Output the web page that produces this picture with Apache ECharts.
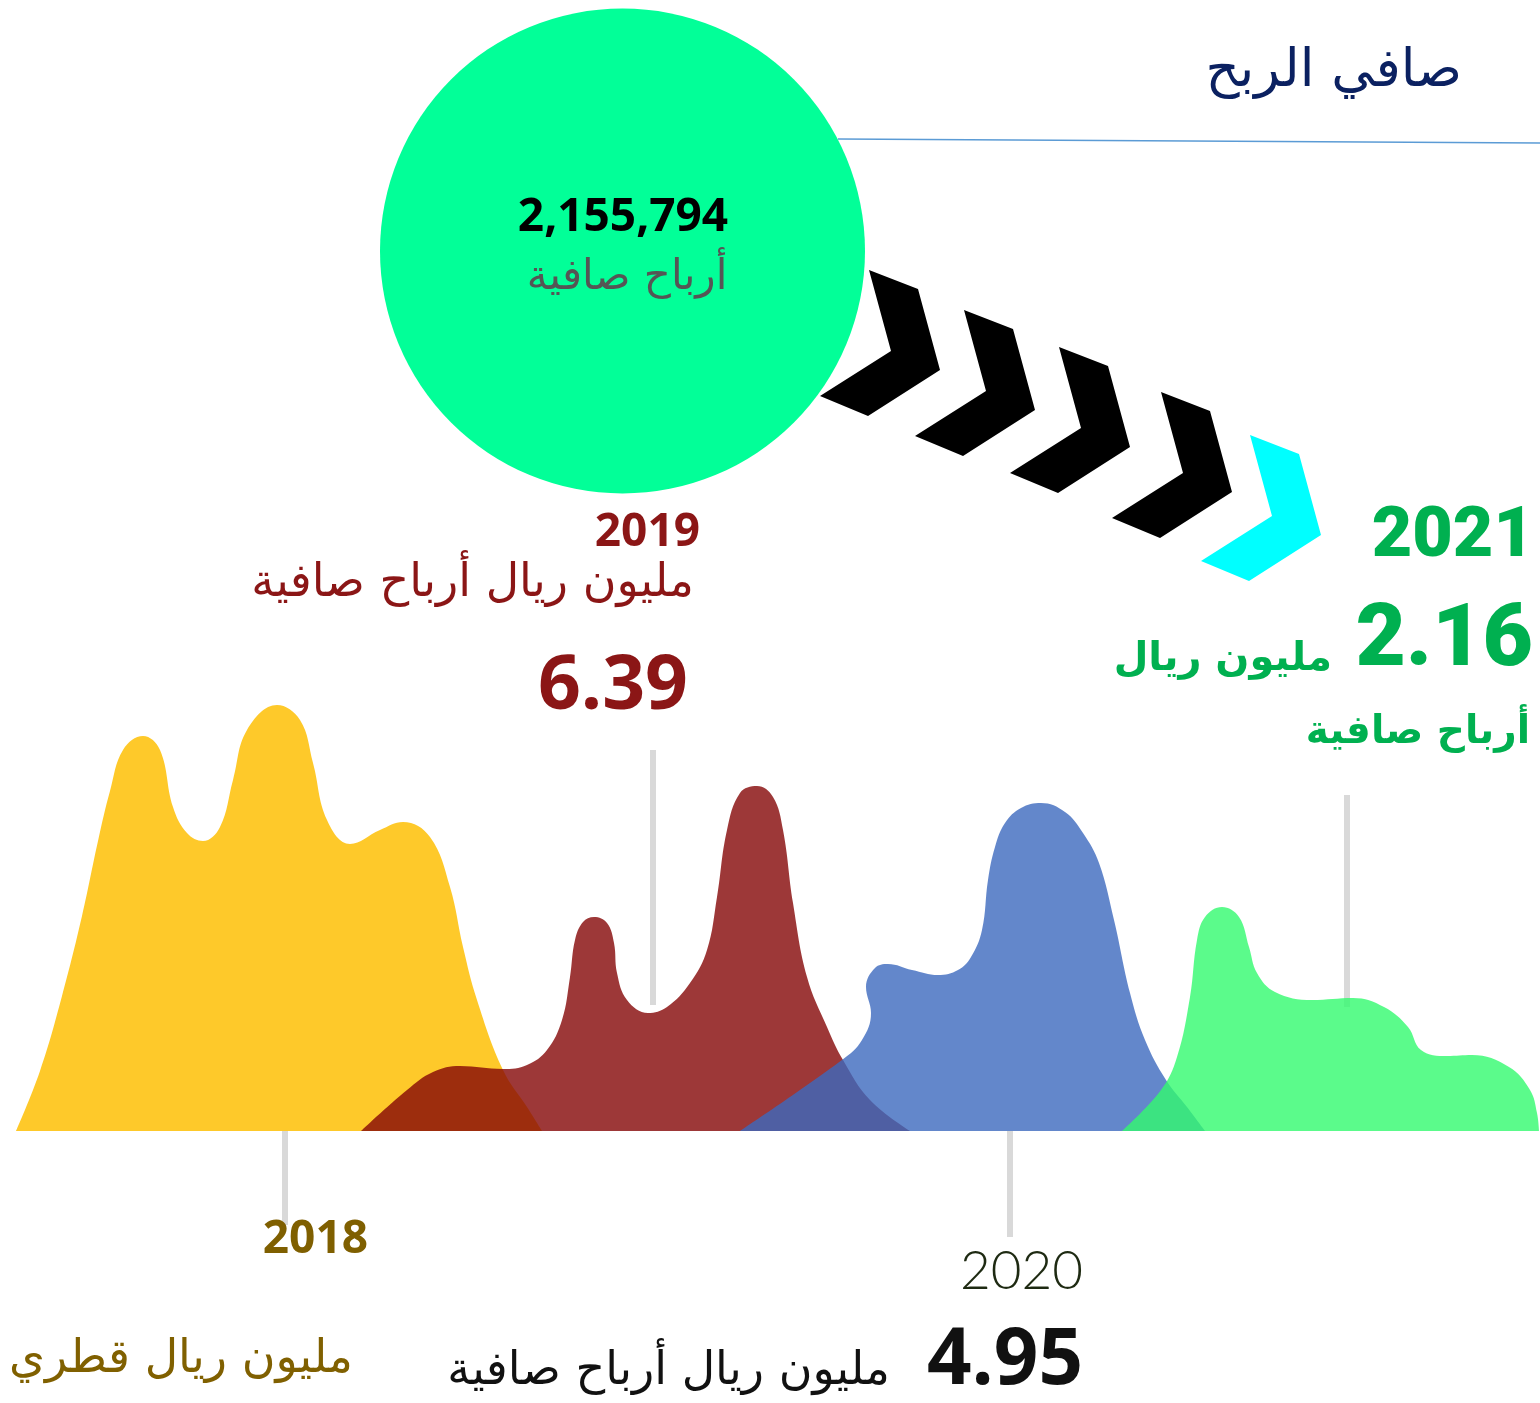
<!doctype html>
<html lang="ar">
<head>
    <meta charset="UTF-8">
    <title>صافي الربح</title>
    <style>
        body { margin: 0; padding: 0; background: #fff; }
        #main { width: 1540px; height: 1403px; }
    </style>
</head>
<body>
    <div id="main"></div>
    <script src="https://cdn.jsdelivr.net/npm/echarts@6/dist/echarts.min.js"></script>
    <script>
        // السنوات والقيم
        var years = ['2018', '2019', '2020', '2021'];
        var profitMillions = ['', '6.39', '4.95', '2.16'];
        var profitExact = '2,155,794';

        // اشكال الموجات: [x, الارتفاع فوق خط الاساس]
        var wave2018 = [[16,0],[40,60],[62,135],[82,215],[98,290],[110,340],[123,381],[143,395],[160,381],[173,324],[187,298],[203,290],[220,304],[233,351],[247,401],[277,426],[300,411],[313,368],[327,311],[350,287],[380,301],[403,309],[430,294],[450,244],[463,184],[477,131],[503,61],[527,24],[542,0]];
        var wave2019 = [[361,0],[407,41],[433,59],[460,65],[503,62],[527,66],[547,81],[562,111],[570,154],[575,191],[583,209],[594,214],[607,208],[614,188],[617,158],[627,131],[648,118],[667,124],[690,148],[707,181],[717,234],[727,301],[740,338],[757,345],[773,334],[783,301],[793,228],[807,154],[827,104],[843,71],[870,31],[910,0]];
        var wave2020 = [[740,0],[842,71],[862,91],[871,118],[866,144],[875,163],[888,167],[912,161],[938,156],[958,161],[971,174],[982,201],[988,251],[995,284],[1005,308],[1021,323],[1041,328],[1065,319],[1083,298],[1099,268],[1114,211],[1130,138],[1145,91],[1166,51],[1187,24],[1205,0]];
        var wave2021 = [[1122,0],[1161,41],[1177,74],[1190,134],[1197,191],[1205,214],[1222,224],[1239,214],[1249,184],[1257,158],[1275,139],[1312,131],[1353,133],[1384,124],[1408,104],[1421,81],[1447,75],[1472,76],[1509,64],[1530,41],[1537,18],[1539,0]];

        // خطوط المؤشرات الرمادية
        var pointers = [[[285,0],[285,-94]], [[653,381],[653,126]], [[1010,0],[1010,-106]], [[1347,336],[1347,124]]];

        var waves = [wave2018, wave2019, wave2020, wave2021];
        var waveColors = ['#fec92a', 'rgba(132,6,6,0.8)', 'rgba(60,105,190,0.8)', 'rgba(50,250,110,0.8)'];

        var arabicFont = "'DejaVu Sans', sans-serif";
        var numFont = "'Open Sans', 'DejaVu Sans', sans-serif";

        var series = [];
        pointers.forEach(function (p) {
            series.push({
                type: 'line', data: p, symbol: 'none', silent: true, z: 1,
                lineStyle: { color: '#d9d9d9', width: 6, cap: 'butt' }
            });
        });
        waves.forEach(function (w, i) {
            series.push({
                name: years[i], type: 'line', data: w, smooth: 0.4, symbol: 'none', z: 2 + i,
                lineStyle: { width: 0 },
                areaStyle: { color: waveColors[i], opacity: 1 }
            });
        });

        function txt(s, x, y, align, size, color, weight, family) {
            return {
                type: 'text', x: x, y: y, z: 50,
                style: {
                    text: s, textAlign: align, textVerticalAlign: 'middle',
                    fontSize: size, fontWeight: weight || 'normal',
                    fontFamily: family || arabicFont, fill: color
                }
            };
        }

        // الاسهم
        var chevronShape = [[0,0],[49,19],[71,100],[-1,146],[-49,126],[22,81]];
        var chevronPos = [[869,270],[964,310],[1059,347],[1161,392],[1250,435]];
        var chevrons = chevronPos.map(function (p, i) {
            return {
                type: 'polygon', z: 10,
                shape: { points: chevronShape.map(function (c) { return [p[0] + c[0], p[1] + c[1]]; }) },
                style: { fill: i === chevronPos.length - 1 ? '#00ffff' : '#000' }
            };
        });

        var graphics = [
            { type: 'circle', z: 5, shape: { cx: 622.5, cy: 251, r: 242.5 }, style: { fill: '#02ff98' } },
            { type: 'line', z: 5, shape: { x1: 838, y1: 139, x2: 1540, y2: 143 }, style: { stroke: '#5b9bd5', lineWidth: 1.5 } },
            txt('صافي الربح', 1462, 72, 'right', 53, '#0b2161'),
            txt(profitExact, 623, 218, 'center', 46, '#000', 'bold', numFont),
            txt('أرباح صافية', 627, 278, 'center', 42, '#555'),

            txt(years[1], 700, 533, 'right', 46, '#8b1616', 'bold', numFont),
            txt('مليون ريال أرباح صافية', 694, 584, 'right', 46, '#8b1616'),
            txt(profitMillions[1], 688, 688, 'right', 75, '#8b1616', 'bold', numFont),

            txt(years[3], 1534, 538, 'right', 70, '#00b050', '900', "Roboto, sans-serif"),
            txt(profitMillions[3], 1533, 643, 'right', 87, '#00b050', '900', "Roboto, sans-serif"),
            txt('مليون ريال', 1332, 660, 'right', 40, '#00b050', 'bold'),
            txt('أرباح صافية', 1530, 733, 'right', 39, '#00b050', 'bold'),

            txt(years[0], 368, 1240, 'right', 46, '#7f5f00', 'bold', numFont),
            txt('مليون ريال قطري أرباح صافية', 353, 1360, 'right', 46, '#806000'),

            txt(years[2], 1083, 1272, 'right', 53, '#1e2a12', '300', "Lato, sans-serif"),
            txt(profitMillions[2], 1083, 1362, 'right', 78, '#111', 'bold', numFont),
            txt('مليون ريال أرباح صافية', 890, 1372, 'right', 46, '#111')
        ].concat(chevrons);

        var myChart = echarts.init(document.getElementById('main'));
        myChart.setOption({
            backgroundColor: '#fff',
            animation: false,
            grid: { left: 0, right: 0, top: 0, bottom: 0 },
            xAxis: { type: 'value', min: 0, max: 1540, show: false },
            yAxis: { type: 'value', min: -272, max: 1131, show: false },
            series: series,
            graphic: graphics
        });
    </script>
</body>
</html>
